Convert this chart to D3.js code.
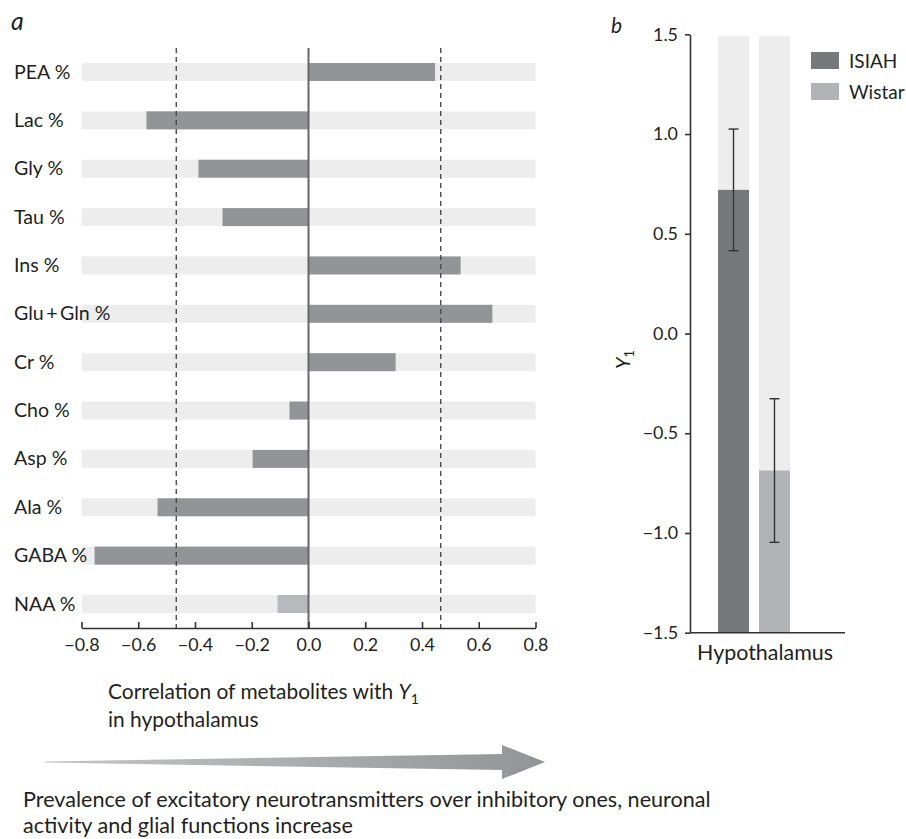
<!DOCTYPE html>
<html>
<head>
<meta charset="utf-8">
<script src="https://cdn.jsdelivr.net/npm/d3@7"></script>
<style>
  html, body { margin: 0; padding: 0; background: #fff; }
  svg { display: block; }
  text { font-family: Lato, "Open Sans", sans-serif; fill: #231f20; }
</style>
</head>
<body>
<svg id="chart" width="906" height="839"></svg>
<script>
// ---------------- DATA ----------------
const metabolites = ["PEA %", "Lac %", "Gly %", "Tau %", "Ins %", "Glu\u2009+\u2009Gln %", "Cr %", "Cho %", "Asp %", "Ala %", "GABA %", "NAA %"];
const correlations = [0.446, -0.571, -0.388, -0.303, 0.536, 0.648, 0.307, -0.067, -0.197, -0.532, -0.754, -0.109];
const highlighted = [false, false, false, false, false, false, false, false, false, false, false, true];
const corrTicks = [-0.8, -0.6, -0.4, -0.2, 0.0, 0.2, 0.4, 0.6, 0.8];
const significance = [-0.466, 0.466];

const groups = ["ISIAH", "Wistar"];
const groupMeans = [0.72, -0.687];
const groupErrors = [0.305, 0.36];
const y1Ticks = [-1.5, -1.0, -0.5, 0.0, 0.5, 1.0, 1.5];

// ---------------- SETUP ----------------
const svg = d3.select("#chart");
const fmt = d3.format(".1f");
const textColor = "#231f20";

// scale a font size so that the given text nodes reach a target total width
function fitFont(sel, targetWidth, base) {
  sel.attr("font-size", base);
  let w = 0;
  sel.each(function () { w += this.getComputedTextLength(); });
  const size = w > 0 ? base * targetWidth / w : base;
  sel.attr("font-size", size);
  return size;
}

// ---------------- PANEL A ----------------
const xA = d3.scaleLinear().domain([-0.8, 0.8]).range([81.5, 535.5]);
const yA = d3.scalePoint().domain(metabolites).range([72, 604]);
const bandH = 18;
const axisYA = 628;
const plotTopA = 48;

const gA = svg.append("g");

gA.selectAll("rect.bg").data(metabolites).join("rect")
  .attr("class", "bg")
  .attr("x", xA(-0.8)).attr("width", xA(0.8) - xA(-0.8))
  .attr("y", d => yA(d) - bandH / 2).attr("height", bandH)
  .attr("fill", "#ededed");

gA.selectAll("rect.bar").data(metabolites).join("rect")
  .attr("class", "bar")
  .attr("x", (d, i) => xA(Math.min(0, correlations[i])))
  .attr("width", (d, i) => Math.abs(xA(correlations[i]) - xA(0)))
  .attr("y", d => yA(d) - bandH / 2).attr("height", bandH)
  .attr("fill", (d, i) => highlighted[i] ? "#b8b9bc" : "#939497");

gA.selectAll("line.sig").data(significance).join("line")
  .attr("class", "sig")
  .attr("x1", d => xA(d)).attr("x2", d => xA(d))
  .attr("y1", plotTopA).attr("y2", axisYA)
  .attr("stroke", "#4a4a4a").attr("stroke-width", 1.4)
  .attr("stroke-dasharray", "5,4");

gA.append("line")
  .attr("x1", xA(0)).attr("x2", xA(0))
  .attr("y1", plotTopA).attr("y2", axisYA)
  .attr("stroke", "#666").attr("stroke-width", 2);

const labs = gA.selectAll("text.lab").data(metabolites).join("text")
  .attr("class", "lab")
  .attr("x", 14)
  .attr("y", d => yA(d) + 6.5)
  .text(d => d);
fitFont(labs.filter(d => d === "PEA %" || d === "GABA %" || d === "Glu\u2009+\u2009Gln %"), 55 + 72 + 99, 19);
labs.attr("font-size", labs.filter(d => d === "PEA %").attr("font-size"));

const axA = gA.append("g")
  .attr("transform", `translate(0,${axisYA})`)
  .call(d3.axisBottom(xA).tickValues(corrTicks).tickFormat(fmt).tickSizeInner(-6).tickSizeOuter(0).tickPadding(10));
axA.select(".domain").attr("stroke", "#333").attr("stroke-width", 1.6);
axA.selectAll(".tick line").attr("stroke", "#333").attr("stroke-width", 1.6);
const tA = axA.selectAll(".tick text").attr("font-family", "Lato, sans-serif").attr("fill", textColor);
fitFont(tA.filter(d => d === 0.8), 25, 18);
tA.attr("font-size", tA.filter(d => d === 0.8).attr("font-size"));

svg.append("text").attr("x", 11).attr("y", 30).attr("font-size", 25).attr("font-style", "italic").text("a");

// ---------------- PANEL B ----------------
const yB = d3.scaleLinear().domain([-1.5, 1.5]).range([632.7, 34.3]);
const xB = d3.scaleBand().domain(groups).range([718, 790]).paddingInner(10 / 41).paddingOuter(0);
const axisXB = 690;
const colors = { ISIAH: "#77787b", Wistar: "#b2b3b6" };

const gB = svg.append("g");

gB.selectAll("rect.bgb").data(groups).join("rect")
  .attr("class", "bgb")
  .attr("x", d => xB(d)).attr("width", xB.bandwidth())
  .attr("y", yB(1.49)).attr("height", yB(-1.5) - yB(1.49))
  .attr("fill", "#ededed");

gB.selectAll("rect.barb").data(groups).join("rect")
  .attr("class", "barb")
  .attr("x", d => xB(d)).attr("width", xB.bandwidth())
  .attr("y", (d, i) => yB(groupMeans[i]))
  .attr("height", (d, i) => yB(-1.5) - yB(groupMeans[i]))
  .attr("fill", d => colors[d]);

const eb = gB.selectAll("g.eb").data(groups).join("g").attr("class", "eb");
eb.append("line")
  .attr("x1", d => xB(d) + xB.bandwidth() / 2).attr("x2", d => xB(d) + xB.bandwidth() / 2)
  .attr("y1", (d, i) => yB(groupMeans[i] + groupErrors[i]))
  .attr("y2", (d, i) => yB(groupMeans[i] - groupErrors[i]))
  .attr("stroke", "#333").attr("stroke-width", 1.4);
[1, -1].forEach(s => {
  eb.append("line")
    .attr("x1", d => xB(d) + xB.bandwidth() / 2 - 5).attr("x2", d => xB(d) + xB.bandwidth() / 2 + 5)
    .attr("y1", (d, i) => yB(groupMeans[i] + s * groupErrors[i]))
    .attr("y2", (d, i) => yB(groupMeans[i] + s * groupErrors[i]))
    .attr("stroke", "#333").attr("stroke-width", 1.4);
});

const axB = gB.append("g")
  .attr("transform", `translate(${axisXB},0)`)
  .call(d3.axisLeft(yB).tickValues(y1Ticks).tickFormat(fmt).tickSizeInner(5).tickSizeOuter(0).tickPadding(7));
axB.select(".domain").attr("stroke", "#333").attr("stroke-width", 1.6);
axB.selectAll(".tick line").attr("stroke", "#333").attr("stroke-width", 1.6);
axB.selectAll(".tick text").attr("font-family", "Lato, sans-serif").attr("fill", textColor)
  .attr("font-size", tA.filter(d => d === 0.8).attr("font-size"));

gB.append("line")
  .attr("x1", axisXB).attr("x2", 845)
  .attr("y1", yB(-1.5)).attr("y2", yB(-1.5))
  .attr("stroke", "#333").attr("stroke-width", 1.6);

const hyp = gB.append("text")
  .attr("x", (xB.range()[0] + xB.range()[1]) / 2 + 11).attr("y", 660)
  .attr("text-anchor", "middle")
  .text("Hypothalamus");
fitFont(hyp, 136, 19);

const yl = gB.append("text")
  .attr("transform", `translate(630,${yB(-0.13)}) rotate(-90)`)
  .attr("text-anchor", "middle").attr("font-size", 20);
yl.append("tspan").attr("font-style", "italic").text("Y");
yl.append("tspan").attr("font-size", 13).attr("dy", 4).text("1");

const leg = gB.selectAll("g.leg").data(groups).join("g").attr("class", "leg")
  .attr("transform", (d, i) => `translate(811,${52 + i * 31})`);
leg.append("rect").attr("width", 28).attr("height", 17).attr("fill", d => colors[d]);
const legT = leg.append("text").attr("x", 38).attr("y", 16).text(d => d);
fitFont(legT, 48 + 56, 18);

svg.append("text").attr("x", 611).attr("y", 33).attr("font-size", 21).attr("font-style", "italic").text("b");

// ---------------- ANNOTATIONS ----------------
const cap = svg.append("text").attr("x", 108).attr("y", 699);
cap.append("tspan").text("Correlation of metabolites with ");
cap.append("tspan").attr("font-style", "italic").text("Y");
const capSub = cap.append("tspan").attr("dy", 5).text("1");
const capSize = fitFont(cap, 315, 19);
capSub.attr("font-size", capSize * 0.68);
const cap2 = svg.append("text").attr("x", 108).attr("y", 727).attr("font-size", capSize).text("in hypothalamus");

const defs = svg.append("defs");
const grad = defs.append("linearGradient").attr("id", "arrowGrad")
  .attr("x1", "0%").attr("x2", "100%").attr("y1", "0%").attr("y2", "0%");
grad.append("stop").attr("offset", "0%").attr("stop-color", "#c4c5c7");
grad.append("stop").attr("offset", "100%").attr("stop-color", "#939497");

const ay = 762;
svg.append("path")
  .attr("d", `M45,${ay - 0.6} L502,${ay - 8} L502,${ay - 17} L545,${ay} L502,${ay + 17} L502,${ay + 8} L45,${ay + 0.6} Z`)
  .attr("fill", "url(#arrowGrad)");

const prev1 = svg.append("text").attr("x", 23).attr("y", 807)
  .text("Prevalence of excitatory neurotransmitters over inhibitory ones, neuronal");
const prevSize = fitFont(prev1, 688, 19);
svg.append("text").attr("x", 23).attr("y", 833).attr("font-size", prevSize)
  .text("activity and glial functions increase");
</script>
</body>
</html>
